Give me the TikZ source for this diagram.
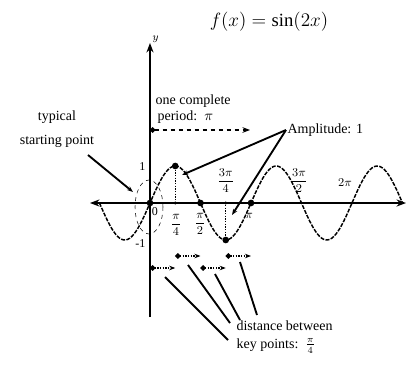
\documentclass[tikz,border=0pt]{standalone}
\usepackage{amsmath}
\usepackage{fontspec}
\setmainfont{Liberation Serif}
\usetikzlibrary{arrows.meta,positioning,calc}

\begin{document}
\begin{tikzpicture}[
    x=0.75pt, y=0.75pt,
    lbl/.style={font=\fontsize{10.5}{12}\selectfont, inner sep=1pt, align=left},
    ticklbl/.style={font=\fontsize{9}{10}\selectfont, inner sep=1pt},
    keydot/.style={circle, fill, inner sep=0pt, minimum size=5pt},
    axdot/.style={circle, fill, inner sep=0pt, minimum size=2.5pt},
    axis/.style={{Stealth[length=2.5mm]}-{Stealth[length=2.5mm]}, line width=1pt},
    pointer/.style={-{Stealth[length=1.6mm]}, line width=1.4pt},
    gap/.style={densely dotted, line width=1pt, {Circle[length=1.4mm]}-{Stealth[length=1.6mm]}},
    wave/.style={line width=1.1pt, dash pattern=on 3pt off 1pt}
]
\useasboundingbox (-150,-162) rectangle (258,203);

% Title
\node[font=\fontsize{14}{16}\selectfont] (title) at (119,181) {$f(x)=\sin(2x)$};

% Axes
\coordinate (xl) at (-60,0);
\coordinate (xr) at (256,0);
\coordinate (yb) at (0,-114);
\coordinate (yt) at (0,160);
\draw[axis] (xl) -- (xr);
\draw[-{Stealth[length=2.5mm]}, line width=1pt] (yb) -- (yt);
\node[ticklbl, font=\fontsize{8}{9}\selectfont, anchor=west] (ylab) at (1,164) {$y$};

% Curve
\draw[wave] plot[variable=\t, domain=-50.5:252.5, samples=151] (\t, {37*sin(3.5644*\t)});

% Key points
\node[keydot] (o) at (0,0) {};
\node[keydot] (pk) at (25.25,37) {};
\node[axdot] (q1) at (25.25,0) {};
\node[keydot] (q2) at (50.5,0) {};
\node[axdot] (q3) at (75.75,0) {};
\node[keydot] (tr) at (75.75,-37) {};
\node[keydot] (q4) at (101,0) {};
\draw[densely dotted, line width=1pt] (pk) -- (q1);
\draw[densely dotted, line width=1pt] (q3) -- (tr);

% Tick labels
\node[ticklbl, anchor=east] (one) at (-3,36) {1};
\node[ticklbl, anchor=east] (mone) at (-3,-41) {-1};
\node[ticklbl] (zero) at (5,-9) {0};
\node[ticklbl] (l1) at (26,-22) {$\dfrac{\pi}{4}$};
\node[ticklbl] (l2) at (50,-21) {$\dfrac{\pi}{2}$};
\node[ticklbl] (l3) at (75.75,22) {$\dfrac{3\pi}{4}$};
\node[ticklbl] (l4) at (99,-13) {$\pi$};
\node[ticklbl] (l6) at (149,22) {$\dfrac{3\pi}{2}$};
\node[ticklbl] (l8) at (195,20) {$2\pi$};

% Starting point
\draw[dashed, thin] (-1,-4) ellipse [x radius=14, y radius=27];
\node[lbl] (typ) at (-93,86) {typical};
\node[lbl] (start) at (-93,62) {starting point};
\coordinate (stf) at (-62,48);
\coordinate (st) at (-17,11);
\draw[pointer] (stf) -- (st);

% Period
\coordinate (p0) at (0,73);
\coordinate (p1) at (100,73);
\draw[dashed, line width=1pt, {Circle[length=1.4mm]}-{Stealth[length=2mm]}] (p0) -- (p1);
\node[lbl, anchor=west] (per1) at (4,102) {one complete};
\node[lbl, anchor=west] (per2) at (6,86) {period:\, $\pi$};

% Amplitude
\node[lbl, anchor=west] (amp) at (136,73) {Amplitude: 1};
\coordinate (a1) at (32,28);
\coordinate (a2) at (82,-12);
\draw[pointer] (amp.west) -- (a1);
\draw[pointer] (amp.west) -- (a2);

% Distance between key points
\coordinate (g1) at (25.25,-53);
\coordinate (g1e) at (50.5,-53);
\coordinate (g2) at (75.75,-53);
\coordinate (g2e) at (101,-53);
\coordinate (g3) at (0,-65);
\coordinate (g3e) at (25.25,-65);
\coordinate (g4) at (50.5,-65);
\coordinate (g4e) at (75.75,-65);
\draw[gap] (g1) -- (g1e);
\draw[gap] (g2) -- (g2e);
\draw[gap] (g3) -- (g3e);
\draw[gap] (g4) -- (g4e);
\node[lbl, anchor=west] (dist) at (85,-123) {distance between};
\node[lbl, anchor=west] (keyp) at (85,-143) {key points:\, $\frac{\pi}{4}$};
\coordinate (d1) at (15,-74);
\coordinate (d2) at (38,-62);
\coordinate (d3) at (65,-71);
\coordinate (d4) at (90,-59);
\coordinate (e1) at (78,-137);
\coordinate (e2) at (80,-120);
\coordinate (e3) at (90,-117);
\coordinate (e4) at (107,-112);
\draw[line width=1.4pt] (d1) -- (e1);
\draw[line width=1.4pt] (d2) -- (e2);
\draw[line width=1.4pt] (d3) -- (e3);
\draw[line width=1.4pt] (d4) -- (e4);

\end{tikzpicture}
\end{document}
